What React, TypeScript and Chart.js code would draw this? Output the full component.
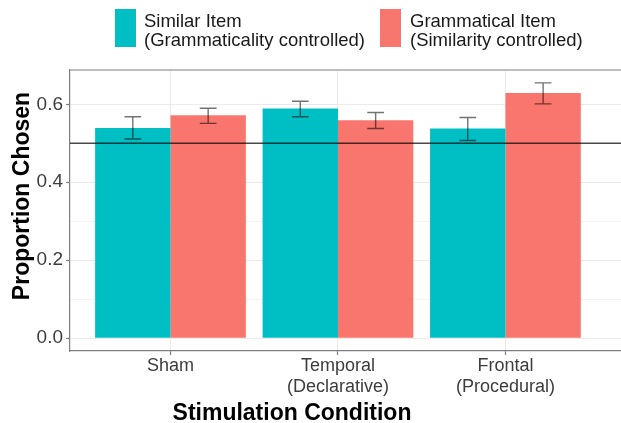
import { useEffect, useRef } from "react";
import { Chart, registerables } from "chart.js";

Chart.register(...registerables);

const categories: string[][] = [["Sham"], ["Temporal", "(Declarative)"], ["Frontal", "(Procedural)"]];
const seriesNames: string[][] = [
  ["Similar Item", "(Grammaticality controlled)"],
  ["Grammatical Item", "(Similarity controlled)"],
];
const similarValues = [0.539, 0.589, 0.538];
const similarLow = [0.511, 0.568, 0.507];
const similarHigh = [0.568, 0.608, 0.566];
const grammaticalValues = [0.572, 0.559, 0.629];
const grammaticalLow = [0.551, 0.538, 0.601];
const grammaticalHigh = [0.59, 0.579, 0.655];
const yTicks = [0, 0.1, 0.2, 0.3, 0.4, 0.5, 0.6];
const referenceLine = 0.5;
const xTitle = "Stimulation Condition";
const yTitle = "Proportion Chosen";

const CYAN = "#00BFC4";
const PINK = "#F8766D";
const FONT = '"Liberation Sans", Arial, sans-serif';
const BORDER = "#7f7f7f";
const GRID = "#EBEBEB";
const GRID_MINOR = "#F4F4F4";
const TEXT = "#3d3d3d";

const isMajor = (v: number) => Math.round(v * 10) % 2 === 0;

const overlayPlugin = {
  id: "overlay",
  afterDatasetsDraw(chart: any) {
    const { ctx, chartArea, scales } = chart;
    const x = scales.x;
    const y = scales.y;
    ctx.save();
    ctx.strokeStyle = "rgba(0,0,0,0.7)";
    ctx.lineWidth = 1.3;
    const yr = y.getPixelForValue(referenceLine);
    ctx.beginPath();
    ctx.moveTo(chartArea.left, yr);
    ctx.lineTo(chartArea.right, yr);
    ctx.stroke();
    const half = x.getPixelForValue(0.05) - x.getPixelForValue(0);
    const lows = [similarLow, grammaticalLow];
    const highs = [similarHigh, grammaticalHigh];
    ctx.strokeStyle = "rgba(0,0,0,0.55)";
    ctx.lineWidth = 1.4;
    for (let d = 0; d < 2; d++) {
      const meta = chart.getDatasetMeta(d);
      meta.data.forEach((el: any, i: number) => {
        const cx = el.x;
        const y1 = y.getPixelForValue(lows[d][i]);
        const y2 = y.getPixelForValue(highs[d][i]);
        ctx.beginPath();
        ctx.moveTo(cx, y1);
        ctx.lineTo(cx, y2);
        ctx.moveTo(cx - half, y1);
        ctx.lineTo(cx + half, y1);
        ctx.moveTo(cx - half, y2);
        ctx.lineTo(cx + half, y2);
        ctx.stroke();
      });
    }
    ctx.strokeStyle = BORDER;
    ctx.lineWidth = 1.2;
    ctx.beginPath();
    ctx.moveTo(chartArea.left, chartArea.top);
    ctx.lineTo(chartArea.right, chartArea.top);
    ctx.stroke();
    ctx.restore();
  },
  afterDraw(chart: any) {
    const { ctx } = chart;
    ctx.save();
    const keys = [
      { color: CYAN, kx: 115, tx: 144, lines: seriesNames[0] },
      { color: PINK, kx: 380, tx: 410, lines: seriesNames[1] },
    ];
    ctx.font = `18.5px ${FONT}`;
    ctx.textAlign = "left";
    ctx.textBaseline = "alphabetic";
    keys.forEach((k) => {
      ctx.fillStyle = k.color;
      ctx.fillRect(k.kx, 9, 21, 38);
      ctx.fillStyle = "#1a1a1a";
      ctx.fillText(k.lines[0], k.tx, 27);
      ctx.fillText(k.lines[1], k.tx, 46);
    });
    ctx.fillStyle = "#000";
    ctx.font = `bold 23px ${FONT}`;
    ctx.textAlign = "center";
    ctx.fillText(xTitle, 292, 420);
    ctx.translate(28.5, 196);
    ctx.rotate(-Math.PI / 2);
    ctx.fillText(yTitle, 0, 0);
    ctx.restore();
  },
};

function App() {
  const ref = useRef<HTMLCanvasElement>(null);
  useEffect(() => {
    if (!ref.current) return;
    const chart = new Chart(ref.current, {
      type: "bar",
      data: {
        datasets: [
          {
            label: seriesNames[0].join(" "),
            data: similarValues.map((v, i) => ({ x: i, y: v })),
            backgroundColor: CYAN,
            borderWidth: 0,
          },
          {
            label: seriesNames[1].join(" "),
            data: grammaticalValues.map((v, i) => ({ x: i, y: v })),
            backgroundColor: PINK,
            borderWidth: 0,
          },
        ],
      },
      options: {
        responsive: false,
        animation: false,
        layout: { padding: { top: 70, left: 0, right: 0, bottom: 0 } },
        datasets: { bar: { categoryPercentage: 0.9, barPercentage: 1.0 } },
        plugins: { legend: { display: false }, tooltip: { enabled: false }, title: { display: false } },
        scales: {
          x: {
            type: "linear",
            offset: false,
            min: -0.6,
            max: 2.69,
            afterBuildTicks: (axis: any) => {
              axis.ticks = categories.map((_, i) => ({ value: i }));
            },
            afterFit: (axis: any) => {
              axis.height = 72;
            },
            grid: { offset: false, color: GRID, lineWidth: 1, tickLength: 4, tickColor: BORDER, tickWidth: 1.2 },
            border: { display: true, color: BORDER, width: 1.2 },
            ticks: {
              autoSkip: false,
              maxRotation: 0,
              padding: 1,
              color: TEXT,
              font: { family: FONT, size: 18, lineHeight: 1.15 },
              callback: (value: any) => categories[Math.round(Number(value))] ?? "",
            },
          },
          y: {
            type: "linear",
            min: -0.033,
            max: 0.688,
            afterBuildTicks: (axis: any) => {
              axis.ticks = yTicks.map((v) => ({ value: v }));
            },
            afterFit: (axis: any) => {
              axis.width = 70;
            },
            grid: {
              color: (c: any) => (isMajor(c.tick.value) ? GRID : GRID_MINOR),
              lineWidth: 1,
              tickLength: 4,
              tickColor: (c: any) => (isMajor(c.tick.value) ? BORDER : "rgba(0,0,0,0)"),
              tickWidth: 1.2,
            },
            border: { display: true, color: BORDER, width: 1.2 },
            ticks: {
              autoSkip: false,
              padding: 3,
              color: TEXT,
              font: { family: FONT, size: 19 },
              callback: (value: any) => (isMajor(Number(value)) ? Number(value).toFixed(1) : ""),
            },
          },
        },
      } as any,
      plugins: [overlayPlugin],
    });
    return () => chart.destroy();
  }, []);
  return (
    <div style={{ position: "fixed", left: 0, top: 0, width: 621, height: 423, overflow: "hidden", background: "#fff" }}>
      <canvas ref={ref} width={621} height={423} style={{ display: "block", width: 621, height: 423 }} />
    </div>
  );
}

export default App;
